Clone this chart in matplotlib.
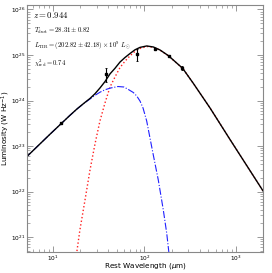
import matplotlib
matplotlib.use("Agg")
import matplotlib.pyplot as plt

# photometry (rest wavelength in micron, luminosity in W/Hz)
obs_wave = [12.4, 37.9, 82.3, 130.0, 183.0, 258.0]
obs_lum = [3.2e23, 3.8e24, 1.05e25, 1.35e25, 9.7e24, 5.2e24]
obs_err = [2.0e22, 1.3e24, 3.2e24, 4.0e23, 3.0e23, 4.0e23]

# total model (black)
tot_wave = [5.0, 9.27, 12.4, 15.3, 18.5, 22.4, 25.4, 28.8, 32.6, 37.0, 42.0, 47.6, 54.0,
            61.2, 69.5, 78.7, 89.3, 105.7, 125.0, 147.6, 182.0, 261.0, 341.0, 520.0,
            859.0, 1972.0]
tot_lum = [5.45e22, 1.81e23, 3.15e23, 4.7e23, 6.65e23, 9.1e23, 1.11e24, 1.41e24, 1.88e24,
           2.6e24, 3.85e24, 5.1e24, 7.0e24, 8.8e24, 1.08e25, 1.3e25, 1.47e25, 1.58e25,
           1.5e25, 1.29e25, 9.7e24, 5.1e24, 2.39e24, 6.84e23, 1.39e23, 1.03e22]

# greybody component (red dotted)
gb_wave = [17.6, 19.7, 22.4, 25.4, 28.8, 32.6, 37.0, 42.0, 47.6, 54.0, 61.2, 69.5,
           78.7, 89.3, 105.7, 125.0, 147.6, 182.0, 261.0, 341.0, 520.0, 859.0, 1972.0]
gb_lum = [2.83e20, 1.43e21, 6.5e21, 2.97e22, 1.11e23, 3.54e23, 8.8e23, 1.98e24, 3.28e24,
          5.3e24, 7.3e24, 9.6e24, 1.2e25, 1.39e25, 1.54e25, 1.48e25, 1.28e25, 9.6e24,
          5.1e24, 2.39e24, 6.84e23, 1.39e23, 1.03e22]

# power-law component (blue dash-dot)
pl_wave = [5.0, 9.27, 12.4, 15.3, 18.5, 22.4, 25.4, 28.8, 32.6, 37.0, 42.0, 51.3, 59.7,
           66.5, 75.5, 82.2, 89.3, 96.4, 105.7, 114.8, 124.8, 141.5, 160.5, 174.8, 187.6]
pl_lum = [5.45e22, 1.81e23, 3.15e23, 4.7e23, 6.6e23, 9.0e23, 1.08e24, 1.3e24, 1.52e24,
          1.72e24, 1.87e24, 2.03e24, 1.98e24, 1.75e24, 1.50e24, 1.26e24, 9.75e23,
          6.84e23, 3.54e23, 1.50e23, 6.34e22, 1.79e22, 3.92e21, 1.22e21, 3.45e20]

FRAME = "#888888"

fig = plt.figure(figsize=(2.72, 2.73), dpi=100)
ax = fig.add_axes([0.099, 0.077, 0.868, 0.905])

ax.plot(gb_wave, gb_lum, color="#ff2020", linestyle=":", linewidth=1.0)
ax.plot(pl_wave, pl_lum, color="#2020ff", linestyle="-.", linewidth=0.8)
ax.plot(tot_wave, tot_lum, color="black", linewidth=1.0)
ax.errorbar(obs_wave, obs_lum, yerr=obs_err, fmt="s", color="black", markersize=2,
            elinewidth=0.8, capsize=1, capthick=0.6)

ax.set_xscale("log")
ax.set_yscale("log")
ax.set_xlim(5.2, 1970)
ax.set_ylim(4.7e20, 1.26e26)

ax.tick_params(which="both", direction="in", top=True, right=True, color=FRAME,
               labelsize=4.2, pad=1.0)
ax.tick_params(which="major", length=4, width=0.6)
ax.tick_params(which="minor", length=2, width=0.5)
for sp in ax.spines.values():
    sp.set_color(FRAME)
    sp.set_linewidth(0.8)

# axis labels placed by hand so they stay inside the small canvas
fig.text(0.533, 0.025, r"Rest Wavelength ($\mu$m)", fontsize=5.2,
         ha="center", va="center")
fig.text(0.022, 0.53, r"Luminosity (W Hz$^{-1}$)", fontsize=5.2,
         ha="center", va="center", rotation=90)

tx = 0.03
ax.text(0.025, 0.96, r"$z=0.944$", transform=ax.transAxes, fontsize=6.3,
        va="center", math_fontfamily="cm")
ax.text(tx, 0.896, r"$T_{\rm dust}=28.31\pm0.82$", transform=ax.transAxes,
        fontsize=4.8, va="center", math_fontfamily="cm")
ax.text(tx, 0.834, r"$L_{\rm TIR}=(202.82\pm42.18)\times10^9\ L_{\odot}$",
        transform=ax.transAxes, fontsize=4.8, va="center", math_fontfamily="cm")
ax.text(tx, 0.764, r"$\chi^2_{\rm red}=0.74$", transform=ax.transAxes,
        fontsize=4.8, va="center", math_fontfamily="cm")

fig.savefig("out.png", dpi=100)
